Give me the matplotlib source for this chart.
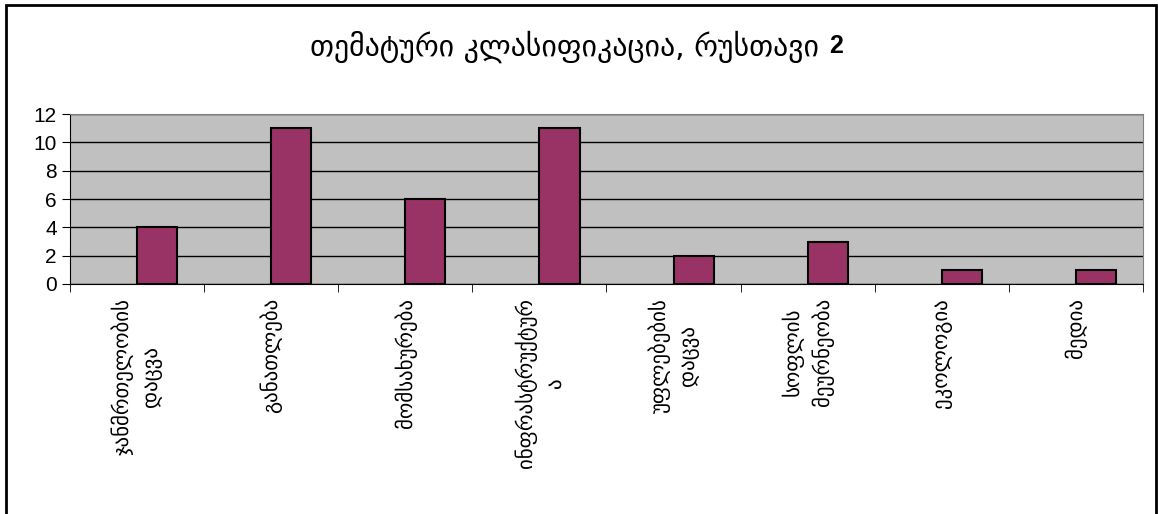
import matplotlib
matplotlib.use("Agg")
import matplotlib.pyplot as plt
from matplotlib.patches import Rectangle
import numpy as np

# chart data
categories = ["ჯანმრთელობის\nდაცვა", "განათლება", "მომსახურება",
              "ინფრასტრუქტურ\nა", "უფლებების\nდაცვა", "სოფლის\nმეურნეობა",
              "ეკოლოგია", "მედია"]
values = [4, 11, 6, 11, 2, 3, 1, 1]
yticks = [0, 2, 4, 6, 8, 10, 12]
title = "თემატური კლასიფიკაცია, რუსთავი"

plt.rcParams['font.family'] = ['DejaVu Sans']

fig = plt.figure(figsize=(11.58, 5.14), dpi=100)
ax = fig.add_axes([0.0604, 0.4475, 0.9266, 0.3305])

# outer chart border
fig.patches.append(Rectangle((0.005, -0.05), 0.993, 1.04, transform=fig.transFigure,
                             fill=False, edgecolor="black", linewidth=2))

x = np.arange(len(values))
ax.bar(x, values, width=0.3, align="edge", color="#993366",
       edgecolor="black", linewidth=1.5, zorder=3)

ax.set_facecolor("#c0c0c0")
ax.set_xlim(-0.5, len(values) - 0.5)
ax.set_ylim(0, 12)
ax.set_yticks(yticks)
ax.set_yticklabels([str(v) for v in yticks], fontfamily="Liberation Sans", fontsize=15)
ax.yaxis.grid(True, color="black", linewidth=1)
ax.set_axisbelow(True)
ax.tick_params(axis="y", length=6, direction="out")

# category labels, tick marks between categories
ax.set_xticks(x)
ax.set_xticklabels(categories, rotation=90, fontsize=15, va="top", ha="center",
                   multialignment="center", linespacing=1.45)
ax.tick_params(axis="x", which="major", length=0, pad=10)
ax.set_xticks(np.arange(-0.5, len(values)), minor=True)
ax.tick_params(axis="x", which="minor", length=6, direction="out")

for s in ["top", "right"]:
    ax.spines[s].set_color("#808080")
for s in ["left", "bottom"]:
    ax.spines[s].set_color("black")

# title: georgian part regular, the number bold, placed right after it
t = fig.text(0.268, 0.91, title, ha="left", va="center", fontsize=21.5)
fig.canvas.draw()
bb = t.get_window_extent()
fig.text((bb.x1 + 10) / fig.bbox.width, 0.91, "2", ha="left", va="center",
         fontsize=18, fontweight="bold", fontfamily="Liberation Sans")

fig.savefig("out.png", dpi=100)
